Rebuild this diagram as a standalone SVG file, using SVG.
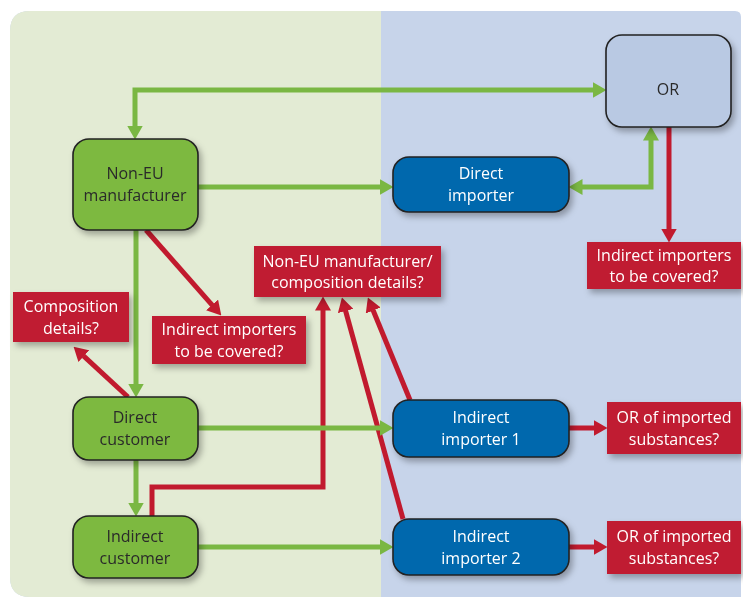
<svg xmlns="http://www.w3.org/2000/svg" width="743" height="599" viewBox="0 0 743 599">
<style>
text{font-family:"Open Sans","Liberation Sans",sans-serif;font-size:16px;text-anchor:middle}
.gn{fill:#7db940;stroke:#222;stroke-width:1.6}
.bn{fill:#0068ad;stroke:#222;stroke-width:1.6}
.on{fill:#b9c9e3;stroke:#222;stroke-width:1.6}
.rl{fill:#c01c30}
.dk{fill:#2a2a2a}
.wt{fill:#ffffff}
.g{fill:none;stroke:#7ab743;stroke-width:5}
.r{fill:none;stroke:#c11a2e;stroke-width:5}
</style>
<defs>
<filter id="sh" x="-20%" y="-20%" width="150%" height="160%">
<feDropShadow dx="3" dy="4" stdDeviation="3" flood-color="#000" flood-opacity="0.3"/>
</filter>
<marker id="ga" markerUnits="userSpaceOnUse" viewBox="0 0 14 16" refX="0.5" refY="8" markerWidth="14" markerHeight="16" orient="auto-start-reverse">
<path d="M0,0 L14,8 L0,16 z" fill="#7ab743"/>
</marker>
<marker id="ra" markerUnits="userSpaceOnUse" viewBox="0 0 14 16" refX="0.5" refY="8" markerWidth="14" markerHeight="16" orient="auto-start-reverse">
<path d="M0,0 L14,8 L0,16 z" fill="#c11a2e"/>
</marker>
<clipPath id="bgc"><path d="M30,11 H735 Q741,11 741,17 V597 H30 Q10,597 10,577 V31 Q10,11 30,11 z"/></clipPath>
</defs>
<g id="background" clip-path="url(#bgc)">
<rect x="10" y="11" width="731" height="586" fill="#c7d4ea"/>
<rect x="10" y="11" width="371" height="586" fill="#e3ebd4"/>
</g>
<g id="connectors">
<path class="r" d="M669,127 V229" stroke-width="6" marker-end="url(#ra)"/>
<path class="r" d="M569,428 H594" stroke-width="7" marker-end="url(#ra)"/>
<path class="r" d="M569,547 H594" stroke-width="7" marker-end="url(#ra)"/>
<path class="r" d="M128,397 L83.5,355.8" marker-end="url(#ra)"/>
<path class="r" d="M146,230 L212.4,305.3" marker-end="url(#ra)"/>
<path class="r" d="M152,516 V487 H323 V310" marker-end="url(#ra)"/>
<path class="r" d="M403,519 L345.5,310.5" marker-end="url(#ra)"/>
<path class="r" d="M410,400 L373,310" marker-end="url(#ra)"/>
<path class="g" d="M135,126 V90 H593" marker-start="url(#ga)" marker-end="url(#ga)"/>
<path class="g" d="M198,187 H380" marker-end="url(#ga)"/>
<path class="g" d="M136,230 V384" marker-end="url(#ga)"/>
<path class="g" d="M136,460 V503" marker-end="url(#ga)"/>
<path class="g" d="M198,428 H380" marker-end="url(#ga)"/>
<path class="g" d="M198,547 H380" marker-end="url(#ga)"/>
<path class="g" d="M582,187 H651 V140" marker-start="url(#ga)" marker-end="url(#ga)"/>
</g>
<g id="non-eu-manufacturer" filter="url(#sh)">
<rect class="gn" x="73" y="139" width="125" height="91" rx="16"/>
<text class="dk" x="135" y="179">Non-EU</text>
<text class="dk" x="135" y="201">manufacturer</text>
</g>
<g id="or" filter="url(#sh)">
<rect class="on" x="606" y="35" width="125" height="92" rx="16"/>
<text class="dk" x="668" y="95">OR</text>
</g>
<g id="direct-importer" filter="url(#sh)">
<rect class="bn" x="393" y="157" width="176" height="55" rx="16"/>
<text class="wt" x="481" y="179">Direct</text>
<text class="wt" x="481" y="201">importer</text>
</g>
<g id="indirect-importer-1" filter="url(#sh)">
<rect class="bn" x="393" y="400" width="176" height="57" rx="16"/>
<text class="wt" x="481" y="423">Indirect</text>
<text class="wt" x="481" y="445">importer 1</text>
</g>
<g id="indirect-importer-2" filter="url(#sh)">
<rect class="bn" x="393" y="519" width="176" height="56" rx="16"/>
<text class="wt" x="481" y="542">Indirect</text>
<text class="wt" x="481" y="564">importer 2</text>
</g>
<g id="direct-customer" filter="url(#sh)">
<rect class="gn" x="73" y="397" width="125" height="63" rx="16"/>
<text class="dk" x="135" y="423">Direct</text>
<text class="dk" x="135" y="445">customer</text>
</g>
<g id="indirect-customer" filter="url(#sh)">
<rect class="gn" x="73" y="516" width="125" height="62" rx="16"/>
<text class="dk" x="135" y="542">Indirect</text>
<text class="dk" x="135" y="564">customer</text>
</g>
<g id="label-composition-details" filter="url(#sh)">
<rect class="rl" x="13" y="292" width="116" height="50"/>
<text class="wt" x="71" y="312">Composition</text>
<text class="wt" x="71" y="334">details?</text>
</g>
<g id="label-indirect-importers-left" filter="url(#sh)">
<rect class="rl" x="152" y="316" width="154" height="48"/>
<text class="wt" x="229" y="335">Indirect importers</text>
<text class="wt" x="229" y="357">to be covered?</text>
</g>
<g id="label-non-eu-composition" filter="url(#sh)">
<rect class="rl" x="254" y="246" width="187" height="51"/>
<text class="wt" x="347.5" y="267">Non-EU manufacturer/</text>
<text class="wt" x="347.5" y="288">composition details?</text>
</g>
<g id="label-indirect-importers-right" filter="url(#sh)">
<rect class="rl" x="587" y="242" width="154" height="47"/>
<text class="wt" x="664" y="261">Indirect importers</text>
<text class="wt" x="664" y="282">to be covered?</text>
</g>
<g id="label-or-substances-1" filter="url(#sh)">
<rect class="rl" x="607" y="402" width="134" height="52"/>
<text class="wt" x="674" y="423">OR of imported</text>
<text class="wt" x="674" y="445">substances?</text>
</g>
<g id="label-or-substances-2" filter="url(#sh)">
<rect class="rl" x="607" y="521" width="134" height="53"/>
<text class="wt" x="674" y="542">OR of imported</text>
<text class="wt" x="674" y="564">substances?</text>
</g>
</svg>
